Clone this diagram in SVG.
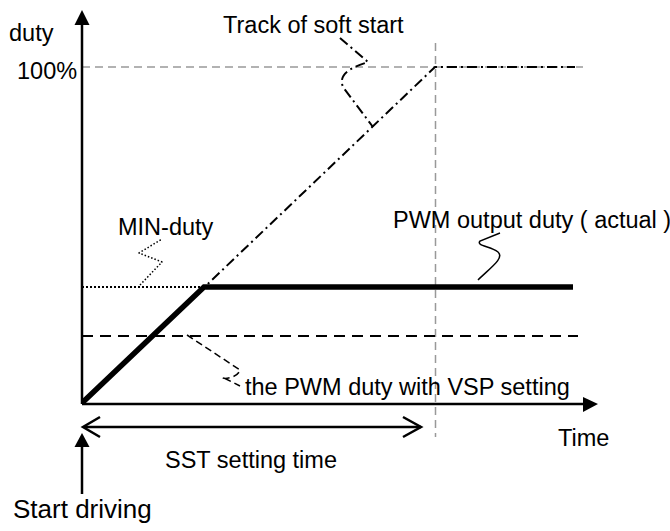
<svg xmlns="http://www.w3.org/2000/svg" width="670" height="531" viewBox="0 0 670 531">
<style>
text{font-family:"Liberation Sans",Arial,sans-serif;font-size:23.5px;fill:#000}
.ax{stroke:#000;stroke-width:2.5;fill:none}
.grid{stroke:#999;stroke-width:1.5;stroke-dasharray:8 5;fill:none}
.dd{stroke:#000;stroke-width:2;stroke-dasharray:10 4 2 4;fill:none}
.thin{stroke:#000;stroke-width:1.5;fill:none}
</style>
<rect width="670" height="531" fill="#fff"/>
<g id="connectors">
<line class="grid" x1="82" y1="67" x2="583" y2="67"/>
<line class="grid" x1="435.5" y1="43" x2="435.5" y2="437"/>
<line class="ax" x1="82" y1="404" x2="82" y2="24"/>
<polygon points="82,10 74.5,25 89.5,25" fill="#000"/>
<line class="ax" x1="82" y1="404" x2="584" y2="404"/>
<polygon points="598,404 583,397 583,412" fill="#000"/>
<polyline class="dd" points="82,404 435,67 575,67"/>
<line stroke="#000" stroke-width="2" stroke-dasharray="2 2" x1="82" y1="287" x2="204" y2="287"/>
<line stroke="#000" stroke-width="2" stroke-dasharray="11 7" x1="82" y1="336" x2="578" y2="336"/>
<polyline points="83,402 204,287 573,287" stroke="#000" stroke-width="5.5" fill="none" stroke-linejoin="miter"/>
<path d="M340,38 L368,62 C350,68 338,74 343,87 L373,127" class="dd" stroke-width="1.5"/>
<path d="M140,285 L162,262 L139,253 L162,239" stroke="#000" stroke-width="1.5" stroke-dasharray="1.5 2" fill="none" stroke-linejoin="round"/>
<path d="M478,280 C490,268 505,258 498,252 C490,246 476,246 480,241 L500,233" class="thin"/>
<path d="M187,335 L240,370 C238,378 222,380 222,377 L240,386" stroke="#000" stroke-width="1.5" stroke-dasharray="7 4" fill="none"/>
<line class="ax" x1="84" y1="427" x2="421" y2="427" stroke-width="2"/>
<polyline class="ax" points="100,417 83,427 100,437" stroke-width="2"/>
<polyline class="ax" points="403,417 421,427 403,437" stroke-width="2"/>
<line class="ax" x1="82" y1="494" x2="82" y2="446"/>
<polygon points="82,433 74.5,447 89.5,447" fill="#000"/>
</g>
<g id="labels">
<text x="9" y="41">duty</text>
<text x="17" y="79">100%</text>
<text x="223" y="33">Track of soft start</text>
<text x="118" y="235">MIN-duty</text>
<text x="393" y="228">PWM output duty ( actual )</text>
<text x="245" y="395">the PWM duty with VSP setting</text>
<text x="558" y="446">Time</text>
<text x="165" y="468">SST setting time</text>
<text x="13" y="518" style="font-size:26px">Start driving</text>
</g>
</svg>
